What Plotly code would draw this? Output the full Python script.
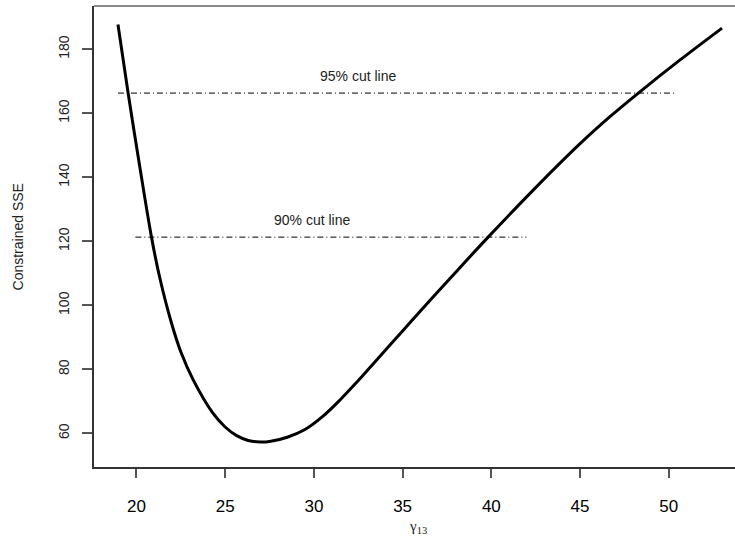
import plotly.graph_objects as go

# Curve
gamma13 = [18.96, 19.53, 20.19, 20.85, 21.3, 22.0, 22.5, 23.2, 24.3, 25.0, 25.65, 26.3,
           26.96, 27.5, 28.5, 29.5, 30.5, 31.5, 32.4, 33.5, 35.0, 36.5, 37.67, 39.82,
           42.36, 45.0, 46.7, 48.37, 50.6, 53.0]
sse = [187.7, 166.4, 143.3, 121.3, 109.0, 94.0, 85.5, 76.7, 66.4, 62.0, 59.3, 57.8,
       57.3, 57.45, 58.8, 61.2, 65.3, 70.6, 75.9, 82.7, 92.0, 101.3, 108.4, 121.3,
       136.0, 150.5, 159.0, 166.7, 176.5, 186.6]

# Cut lines
cut_labels = ["95% cut line", "90% cut line"]
cut_levels = [166.3, 121.3]
cut_x_start = [18.96, 19.94]
cut_x_end = [50.45, 41.98]
label_x = [32.5, 29.9]
label_y = [171.6, 126.6]

x_ticks = [20, 25, 30, 35, 40, 45, 50]
y_ticks = [60, 80, 100, 120, 140, 160, 180]

fig = go.Figure()
fig.add_trace(go.Scatter(x=gamma13, y=sse, mode="lines",
                         line=dict(color="black", width=3, shape="spline", smoothing=1.0),
                         showlegend=False, hoverinfo="skip"))
for lvl, xs, xe in zip(cut_levels, cut_x_start, cut_x_end):
    fig.add_trace(go.Scatter(x=[xs, xe], y=[lvl, lvl], mode="lines",
                             line=dict(color="black", width=1, dash="6px,3px,1px,3px"),
                             showlegend=False, hoverinfo="skip"))
for t, lx, ly in zip(cut_labels, label_x, label_y):
    fig.add_annotation(x=lx, y=ly, text=t, showarrow=False,
                       font=dict(family="Liberation Sans, Arial", size=14, color="#222"))

fig.add_annotation(xref="paper", yref="paper", x=-0.1186, xanchor="center", y=0.5,
                   text="Constrained SSE", textangle=-90, showarrow=False,
                   font=dict(family="Liberation Sans, Arial", size=14, color="#222"))
fig.add_annotation(xref="paper", yref="paper", x=0.505, y=-0.13, yanchor="middle",
                   text="γ<sub>13</sub>", showarrow=False,
                   font=dict(family="Liberation Serif, Times New Roman", size=15, color="#222"))

# top frame line
fig.add_shape(type="line", xref="paper", yref="paper", x0=0, x1=1, y0=1, y1=1,
              line=dict(color="#666", width=1.5))

fig.update_layout(
    width=735, height=541,
    margin=dict(l=94, r=0, t=6, b=74),
    plot_bgcolor="white", paper_bgcolor="white",
    xaxis=dict(range=[17.61, 53.73], tickvals=x_ticks, showgrid=False, zeroline=False,
               showline=True, linecolor="#333", linewidth=1.5,
               ticks="outside", ticklen=9, tickcolor="#555", tickwidth=1.5,
               ticklabelstandoff=14,
               tickfont=dict(family="Liberation Sans, Arial", size=17, color="black")),
    yaxis=dict(range=[49.5, 193.5], tickvals=y_ticks, showgrid=False, zeroline=False,
               showline=True, linecolor="#333", linewidth=1.5,
               ticks="outside", ticklen=10, tickcolor="#555", tickwidth=1.5,
               tickangle=-90, ticklabelstandoff=8,
               tickfont=dict(family="Liberation Sans, Arial", size=14, color="#222")),
)

fig.write_html("out.html")
